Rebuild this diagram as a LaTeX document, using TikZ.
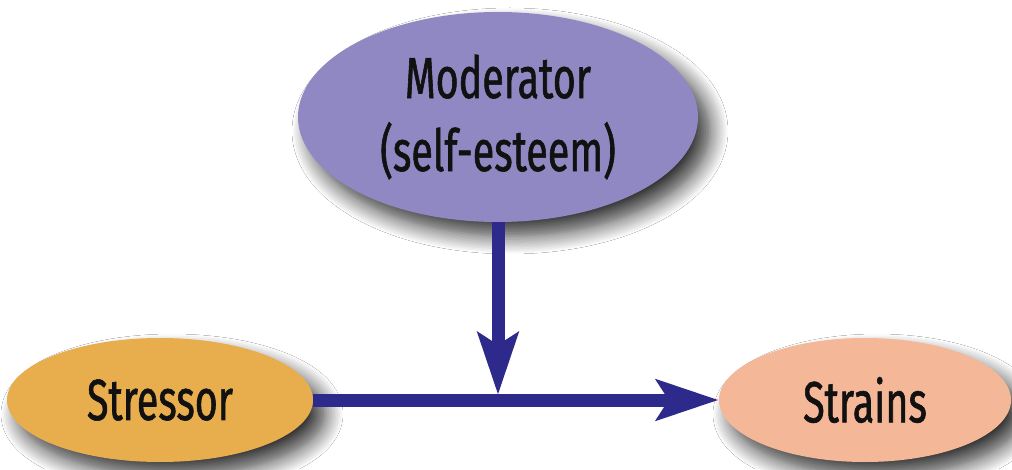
\documentclass[tikz,border=0pt]{standalone}
\usepackage{fontspec}
\newfontfamily\blobfont[FakeStretch=0.68, FakeBold=1.0]{Fira Sans}
\usetikzlibrary{arrows.meta,shadows.blur,shapes.geometric}

\definecolor{modfill}{HTML}{9088C2}
\definecolor{stressfill}{HTML}{E8AE4E}
\definecolor{strainfill}{HTML}{F4B797}
\definecolor{arrowblue}{HTML}{2E2A8C}
\definecolor{inktext}{HTML}{111111}

\tikzset{
  blob/.style={ellipse, inner sep=0pt, text=inktext,
    font=\blobfont\fontsize{58}{73}\selectfont, align=center,
    blur shadow={shadow xshift=12pt, shadow yshift=-14pt,
      shadow blur radius=18pt, shadow blur steps=12, shadow opacity=80}},
  flow/.style={draw=arrowblue, line width=13pt,
    -{Stealth[length=62pt, width=40pt, inset=12pt, fill=arrowblue]}},
}

\begin{document}
\begin{tikzpicture}[x=1pt, y=1pt]
  \useasboundingbox[fill=white] (0,0) rectangle (1012,469);

  % the three variables
  \node[blob, fill=modfill, minimum width=400pt, minimum height=210pt]
    (mod) at (498,352) {Moderator\\(self-esteem)};
  \node[blob, fill=stressfill, minimum width=306pt, minimum height=124pt]
    (stress) at (160,69) {Stressor};
  \node[blob, fill=strainfill, minimum width=292pt, minimum height=124pt]
    (strain) at (865,69) {Strains};

  % main path and the moderating effect on it
  \coordinate (join) at (mod.south |- stress.east);
  \draw[flow] (stress.east) -- (strain.west);
  \draw[flow, shorten >=-1pt] (mod.south) -- ([yshift=6pt]join);
\end{tikzpicture}
\end{document}
